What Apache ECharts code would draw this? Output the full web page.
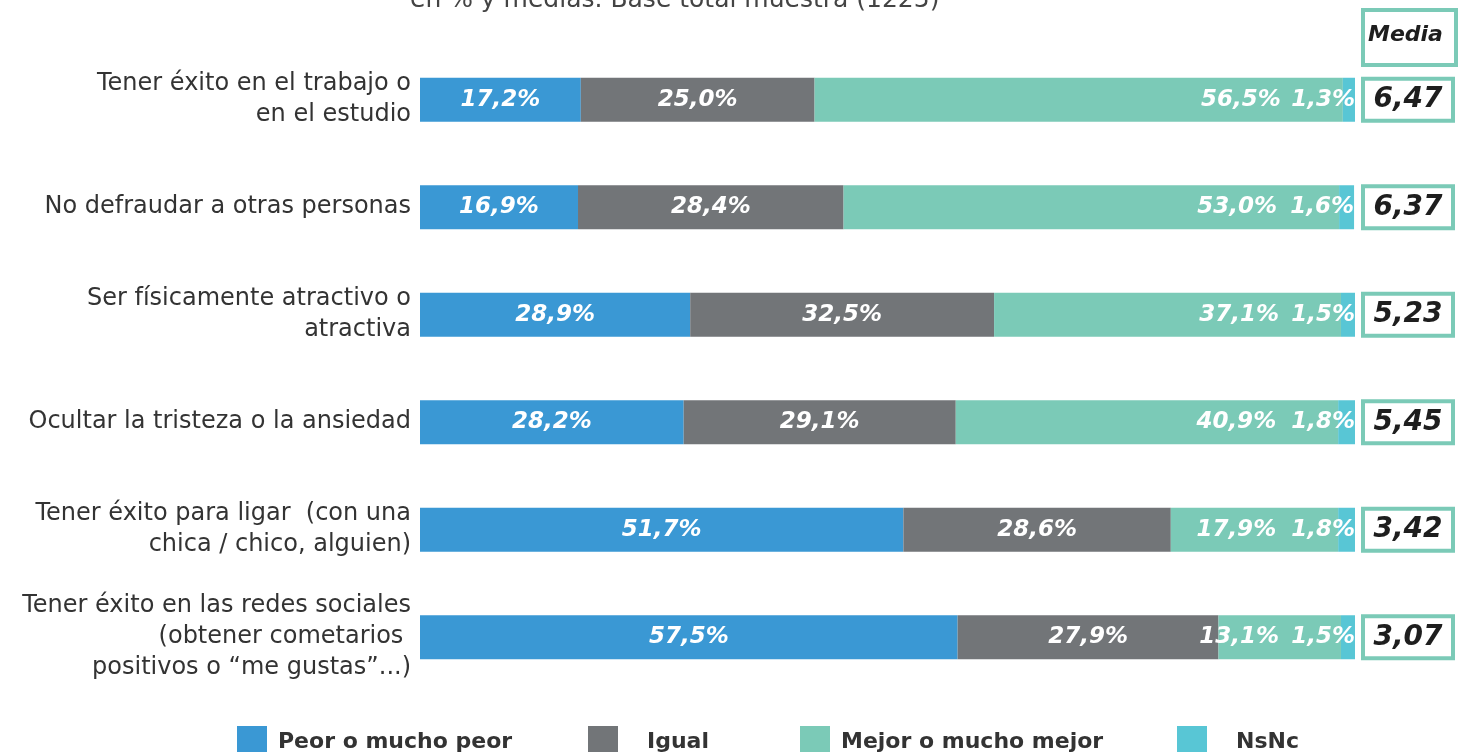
<!DOCTYPE html>
<html>
<head>
<meta charset="utf-8">
<script src="https://cdn.jsdelivr.net/npm/echarts@6/dist/echarts.min.js"></script>
<style>
  html, body { margin: 0; padding: 0; background: #fff; }
  #chart { width: 1464px; height: 752px; }
</style>
</head>
<body>
<div id="chart"></div>
<script>
// categorías (de arriba a abajo)
var categories = [
  'Tener éxito en el trabajo o\nen el estudio',
  'No defraudar a otras personas',
  'Ser físicamente atractivo o\natractiva',
  'Ocultar la tristeza o la ansiedad',
  'Tener éxito para ligar  (con una\nchica / chico, alguien)',
  'Tener éxito en las redes sociales\n(obtener cometarios \npositivos o “me gustas”...)'
];
var seriesNames = ['Peor o mucho peor', 'Igual', 'Mejor o mucho mejor', 'NsNc'];
var peor = [17.2, 16.9, 28.9, 28.2, 51.7, 57.5];
var igual = [25.0, 28.4, 32.5, 29.1, 28.6, 27.9];
var mejor = [56.5, 53.0, 37.1, 40.9, 17.9, 13.1];
var nsnc = [1.3, 1.6, 1.5, 1.8, 1.8, 1.5];
var medias = ['6,47', '6,37', '5,23', '5,45', '3,42', '3,07'];
var colors = ['#3a98d4', '#727578', '#7bcab7', '#58c6d5'];

var chart = echarts.init(document.getElementById('chart'));

// etiqueta de los valores con coma decimal
function pct (p) {
  return p.value.toFixed(1).replace('.', ',') + '%';
}
var labelBase = {
  show: true,
  color: '#fff',
  fontFamily: 'DejaVu Sans',
  fontSize: 23,
  fontStyle: 'italic',
  fontWeight: 'bold',
  formatter: pct
};

function makeSeries (i, data, label) {
  return {
    name: seriesNames[i],
    type: 'bar',
    stack: 'total',
    barWidth: 44,
    data: data,
    itemStyle: { color: colors[i] },
    label: Object.assign({}, labelBase, label),
    emphasis: { disabled: true }
  };
}

// leyenda: una por serie para colocarlas como en el original
var legendPos = [232, 583, 795, 1172];
var legends = seriesNames.map(function (n, i) {
  return {
    data: [n],
    left: legendPos[i],
    top: 721,
    itemWidth: 30,
    itemHeight: 32,
    itemGap: 0,
    icon: 'rect',
    textStyle: {
      color: '#333',
      fontFamily: 'DejaVu Sans',
      fontSize: 22,
      fontWeight: 'bold',
      padding: [0, 0, 0, (i === 1 || i === 3) ? 24 : 6]
    },
    selectedMode: false
  };
});

var option = {
  animation: false,
  color: colors,
  legend: legends,
  grid: {
    left: 420,
    right: 109,
    top: 46,
    bottom: 61
  },
  xAxis: {
    type: 'value',
    min: 0,
    max: 100,
    show: false
  },
  yAxis: [
    {
      type: 'category',
      inverse: true,
      data: categories,
      axisLine: { show: false },
      axisTick: { show: false },
      axisLabel: {
        margin: 9,
        color: '#333',
        fontFamily: 'DejaVu Sans',
        fontSize: 24,
        lineHeight: 31,
        align: 'right'
      }
    },
    {
      // medias a la derecha
      type: 'category',
      inverse: true,
      position: 'right',
      data: medias,
      axisLine: { show: false },
      axisTick: { show: false },
      axisLabel: {
        margin: 53,
        align: 'center',
        color: '#1e1e1e',
        fontFamily: 'DejaVu Sans',
        fontSize: 28,
        fontStyle: 'italic',
        fontWeight: 'bold',
        backgroundColor: '#fff',
        borderColor: '#7bcab7',
        borderWidth: 4,
        width: 82,
        height: 38,
        lineHeight: 38,
        padding: [0, 2, 0, 2],
        verticalAlign: 'middle'
      }
    }
  ],
  series: [
    makeSeries(0, peor, { position: 'inside' }),
    makeSeries(1, igual, { position: 'inside' }),
    makeSeries(2, mejor, { position: 'insideRight', distance: 62 }),
    makeSeries(3, nsnc, { position: 'insideRight', distance: 0 })
  ],
  graphic: [
    {
      type: 'text',
      left: 410,
      top: -12,
      style: {
        text: 'en % y medias. Base total muestra (1225)',
        fill: '#444',
        font: '25px "DejaVu Sans"'
      }
    },
    {
      type: 'rect',
      left: 1361,
      top: 8,
      shape: { width: 93, height: 55 },
      style: { fill: '#fff', stroke: '#7bcab7', lineWidth: 4 }
    },
    {
      type: 'text',
      left: 1368,
      top: 24,
      style: {
        text: 'Media',
        fill: '#1e1e1e',
        font: 'italic bold 22px "DejaVu Sans"'
      }
    }
  ]
};
chart.setOption(option);
</script>
</body>
</html>
